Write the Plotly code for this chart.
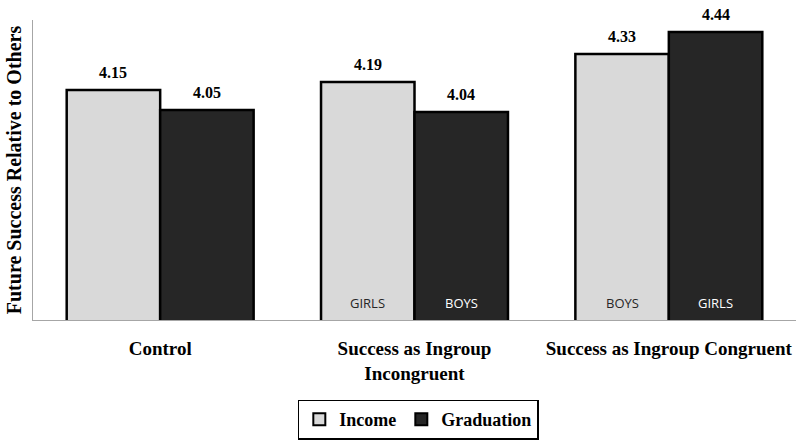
import plotly.graph_objects as go

categories = ["Control", "Success as Ingroup<br>Incongruent", "Success as Ingroup Congruent"]
income = [4.15, 4.19, 4.33]
graduation = [4.05, 4.04, 4.44]
income_inner = ["", "GIRLS", "BOYS"]
graduation_inner = ["", "BOYS", "GIRLS"]

xpos = list(range(len(categories)))
light = "#d9d9d9"
dark = "#262626"
serif = "Times New Roman, Liberation Serif, serif"

fig = go.Figure()
fig.add_trace(go.Bar(x=xpos, y=income, name="<b>Income</b>", marker=dict(color=light, line=dict(color="black", width=2.5))))
fig.add_trace(go.Bar(x=xpos, y=graduation, name="<b>Graduation</b>", marker=dict(color=dark, line=dict(color="black", width=2.5))))

bargap = 0.265
half = (1 - bargap) / 4
annotations = []
for i in xpos:
    for vals, inner, off, col in [(income, income_inner, -half, dark), (graduation, graduation_inner, half, "white")]:
        annotations.append(dict(x=i + off, y=vals[i], xref="x", yref="y", text="<b>%.2f</b>" % vals[i],
                                showarrow=False, yanchor="bottom", yshift=7,
                                font=dict(family=serif, size=16, color="black")))
        if inner[i]:
            annotations.append(dict(x=i + off, y=3.0, xref="x", yref="y", text=inner[i],
                                    showarrow=False, yanchor="bottom", yshift=6,
                                    font=dict(family="Open Sans, sans-serif", size=13, color=col)))

fig.update_layout(
    width=800, height=443,
    margin=dict(l=33, r=4, t=20, b=123, autoexpand=False),
    plot_bgcolor="white", paper_bgcolor="white",
    barmode="group", bargap=bargap, bargroupgap=0,
    showlegend=True,
    legend=dict(orientation="h", x=0.505, xanchor="center", y=-0.265, yanchor="top",
                bordercolor="black", borderwidth=1.5,
                font=dict(family=serif, size=18, color="black"),
                itemsizing="constant", traceorder="normal", itemwidth=30),
    annotations=annotations,
    xaxis=dict(tickmode="array", tickvals=xpos, ticktext=["<b>%s</b>" % c for c in categories],
               range=[-0.5, 2.5], showline=True, linecolor="#a6a6a6", linewidth=1,
               ticks="", ticklabelstandoff=11, automargin=False,
               tickfont=dict(family=serif, size=19, color="black")),
    yaxis=dict(range=[3.0, 4.5], showline=True, linecolor="#a6a6a6", linewidth=1,
               showticklabels=False, ticks="", showgrid=False, zeroline=False, automargin=False,
               title=dict(text="<b>Future Success Relative to Others</b>", standoff=5,
                          font=dict(family=serif, size=20, color="black"))),
)
fig.write_html("out.html", config={"displayModeBar": False},
               post_script="document.body.style.margin='0';document.body.style.overflow='hidden';")
